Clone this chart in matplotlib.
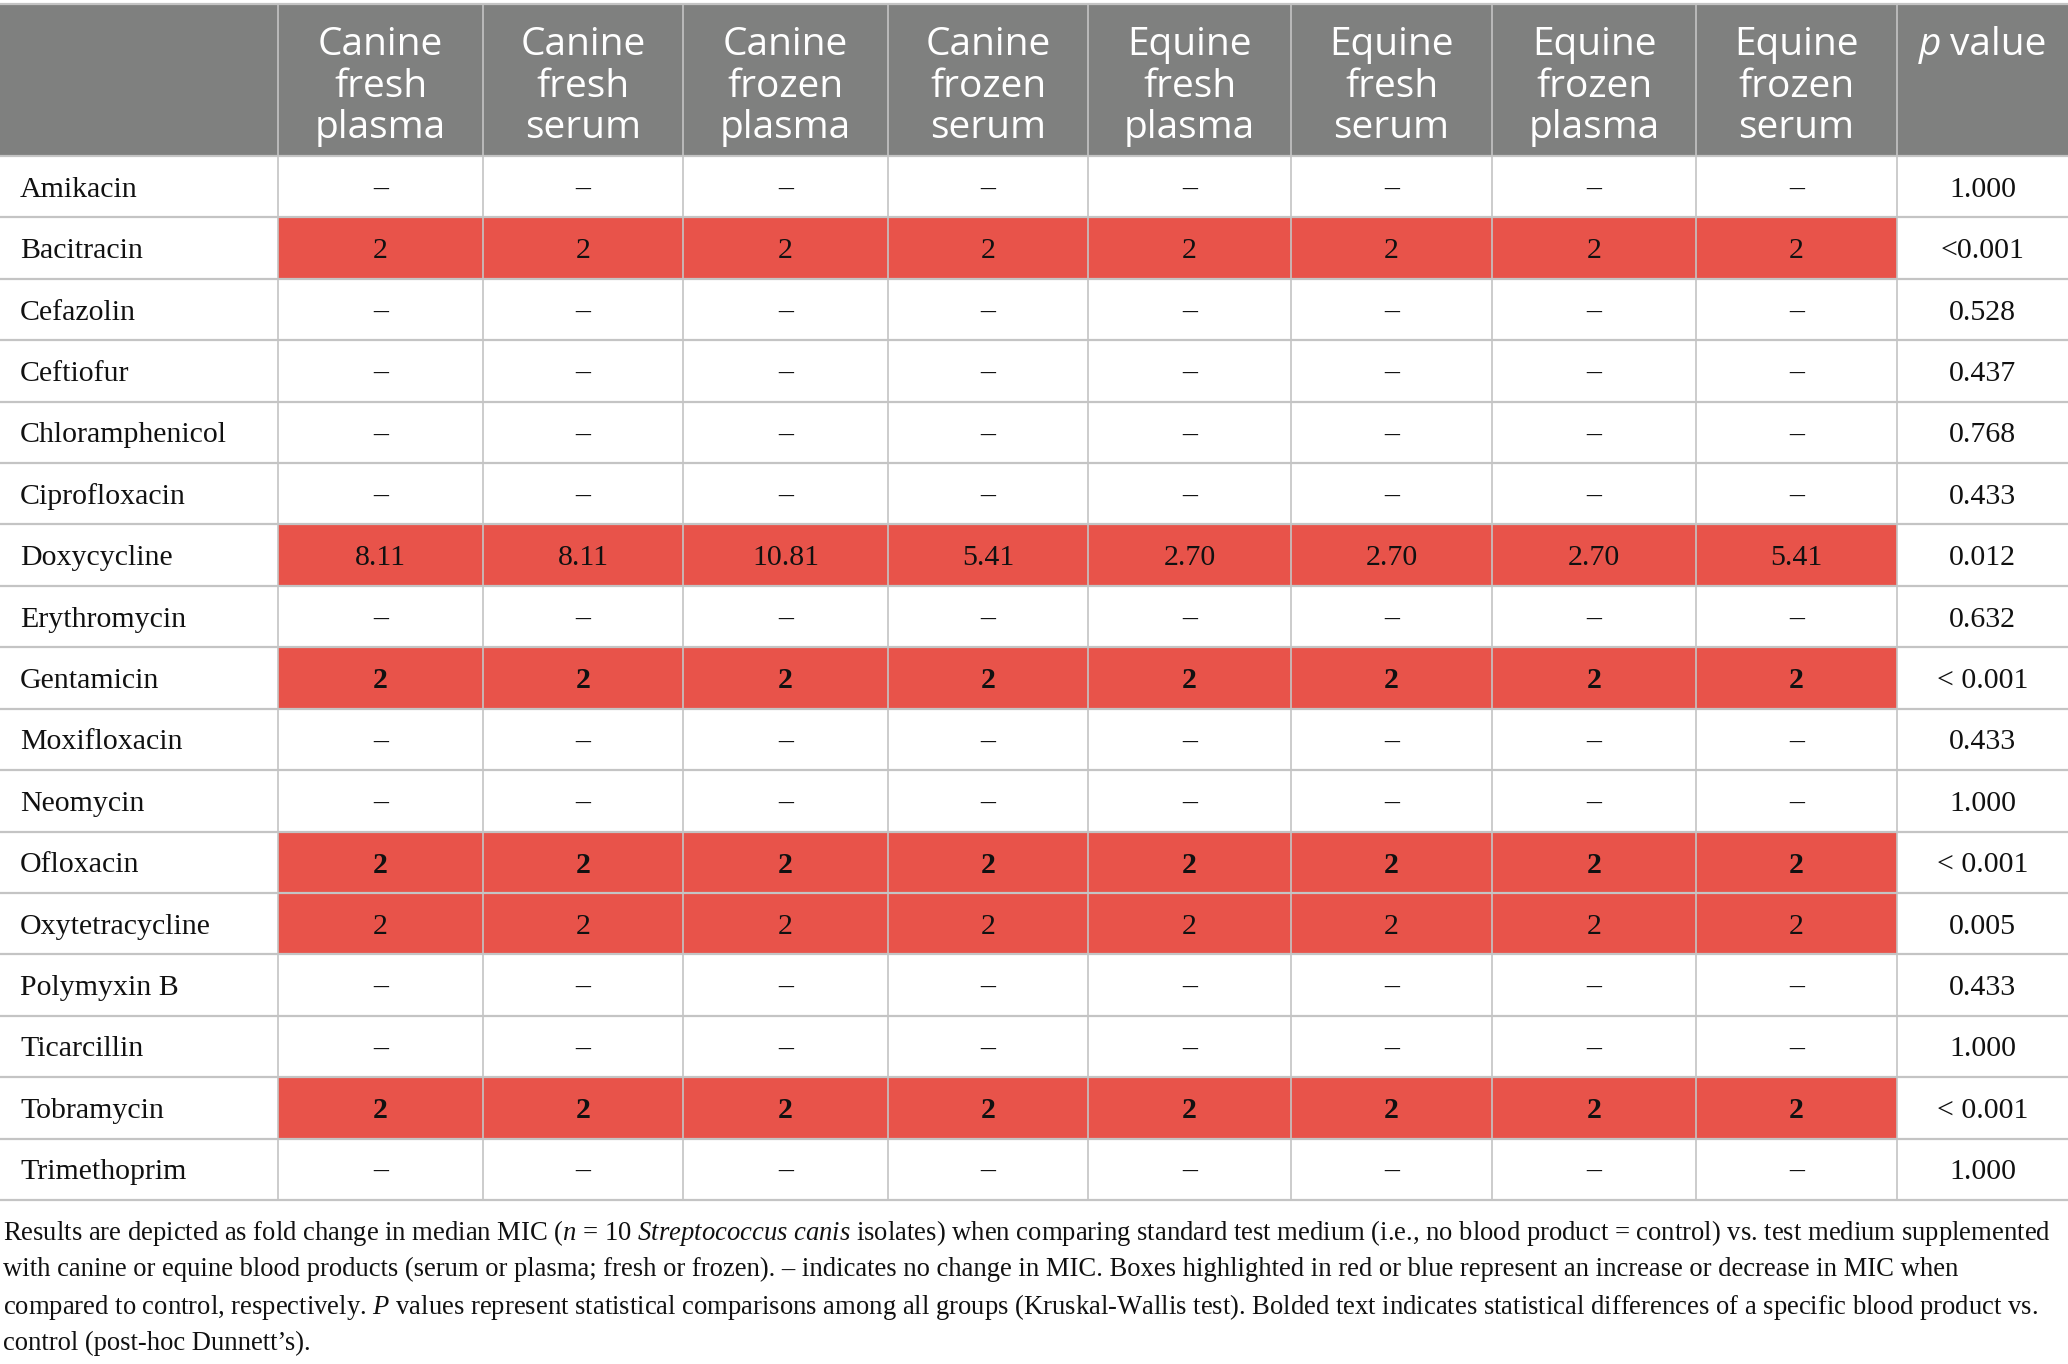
import matplotlib
matplotlib.use("Agg")
import matplotlib.pyplot as plt
from matplotlib.patches import Rectangle

# ---- data ----
columns = ["Canine\nfresh\nplasma", "Canine\nfresh\nserum", "Canine\nfrozen\nplasma",
           "Canine\nfrozen\nserum", "Equine\nfresh\nplasma", "Equine\nfresh\nserum",
           "Equine\nfrozen\nplasma", "Equine\nfrozen\nserum"]
drugs = ["Amikacin", "Bacitracin", "Cefazolin", "Ceftiofur", "Chloramphenicol",
         "Ciprofloxacin", "Doxycycline", "Erythromycin", "Gentamicin", "Moxifloxacin",
         "Neomycin", "Ofloxacin", "Oxytetracycline", "Polymyxin B", "Ticarcillin",
         "Tobramycin", "Trimethoprim"]
D = "\u2013"
fold_change = [
    [D] * 8,
    ["2"] * 8,
    [D] * 8,
    [D] * 8,
    [D] * 8,
    [D] * 8,
    ["8.11", "8.11", "10.81", "5.41", "2.70", "2.70", "2.70", "5.41"],
    [D] * 8,
    ["2"] * 8,
    [D] * 8,
    [D] * 8,
    ["2"] * 8,
    ["2"] * 8,
    [D] * 8,
    [D] * 8,
    ["2"] * 8,
    [D] * 8,
]
p_values = ["1.000", "<0.001", "0.528", "0.437", "0.768", "0.433", "0.012", "0.632",
            "< 0.001", "0.433", "1.000", "< 0.001", "0.005", "0.433", "1.000",
            "< 0.001", "1.000"]
increased = ["Bacitracin", "Doxycycline", "Gentamicin", "Ofloxacin", "Oxytetracycline",
             "Tobramycin"]
bold_rows = ["Gentamicin", "Ofloxacin", "Tobramycin"]

caption_lines = [
    r"Results are depicted as fold change in median MIC ($n$ = 10 $Streptococcus\ canis$ isolates) when comparing standard test medium (i.e., no blood product = control) vs. test medium supplemented",
    "with canine or equine blood products (serum or plasma; fresh or frozen). \u2013 indicates no change in MIC. Boxes highlighted in red or blue represent an increase or decrease in MIC when",
    r"compared to control, respectively. $P$ values represent statistical comparisons among all groups (Kruskal-Wallis test). Bolded text indicates statistical differences of a specific blood product vs.",
    "control (post-hoc Dunnett\u2019s).",
]

# ---- style ----
W, H = 2068, 1364
col_edges = [0, 278, 483, 683, 888, 1088, 1291, 1492, 1696, 1897, 2068]
top, head_bot, body_bot = 4, 156, 1200
head_baselines = [55, 97, 138]
grey = "#7f807f"
red = "#e8534a"
line_c = "#c4c4c4"
serif = "Liberation Serif"
ink = "#111111"
head_fs = 28
body_fs = 21.5

plt.rcParams["mathtext.fontset"] = "custom"
plt.rcParams["mathtext.rm"] = serif
plt.rcParams["mathtext.it"] = serif + ":italic"

fig = plt.figure(figsize=(W / 100, H / 100), dpi=100)
ax = fig.add_axes([0, 0, 1, 1])
ax.set_xlim(0, W)
ax.set_ylim(H, 0)
ax.axis("off")

n = len(drugs)
rh = (body_bot - head_bot) / n

# header
ax.add_patch(Rectangle((0, top), W, head_bot - top, color=grey, lw=0))
for j, name in enumerate(columns):
    cx = (col_edges[j + 1] + col_edges[j + 2]) / 2
    for k, part in enumerate(name.split("\n")):
        ax.text(cx, head_baselines[k], part, ha="center", va="baseline", color="white",
                fontsize=head_fs, family="Open Sans")

# "p value" header with italic p
fig.canvas.draw()
r = fig.canvas.get_renderer()
cx = (col_edges[-2] + col_edges[-1]) / 2
t1 = ax.text(0, 0, "p", fontsize=head_fs, family="Open Sans", style="italic", color="white")
t2 = ax.text(0, 0, "value", fontsize=head_fs, family="Open Sans", color="white")
w1 = t1.get_window_extent(r).width
w2 = t2.get_window_extent(r).width
gap = 9
x0 = cx - (w1 + gap + w2) / 2
t1.set_position((x0, head_baselines[0])); t1.set_va("baseline")
t2.set_position((x0 + w1 + gap, head_baselines[0])); t2.set_va("baseline")

# body
for i, drug in enumerate(drugs):
    y0 = head_bot + i * rh
    yc = y0 + rh / 2
    if drug in increased:
        ax.add_patch(Rectangle((col_edges[1], y0), col_edges[9] - col_edges[1], rh,
                               color=red, lw=0))
    ax.text(20, yc, drug, ha="left", va="center_baseline", fontsize=body_fs,
            family=serif, color=ink)
    wt = "bold" if drug in bold_rows else "normal"
    for j, v in enumerate(fold_change[i]):
        cxx = (col_edges[j + 1] + col_edges[j + 2]) / 2
        ax.text(cxx, yc, v, ha="center", va="center_baseline", fontsize=body_fs,
                family=serif, weight=wt, color=ink)
    ax.text((col_edges[-2] + col_edges[-1]) / 2, yc, p_values[i], ha="center",
            va="center_baseline", fontsize=body_fs, family=serif, color=ink)

# grid lines
for i in range(n + 1):
    y = head_bot + i * rh
    ax.plot([0, W], [y, y], color=line_c, lw=1.6, solid_capstyle="butt")
ax.plot([0, W], [top, top], color=line_c, lw=1.6)
for x in col_edges[1:-1]:
    ax.plot([x, x], [top, body_bot], color=line_c, lw=1.2)

# caption
cap_y = [1229, 1266, 1303, 1340]
for y, line in zip(cap_y, caption_lines):
    ax.text(3, y, line, ha="left", va="center_baseline", fontsize=19.2,
            family=serif, color=ink)

fig.savefig("out.png", dpi=100)
